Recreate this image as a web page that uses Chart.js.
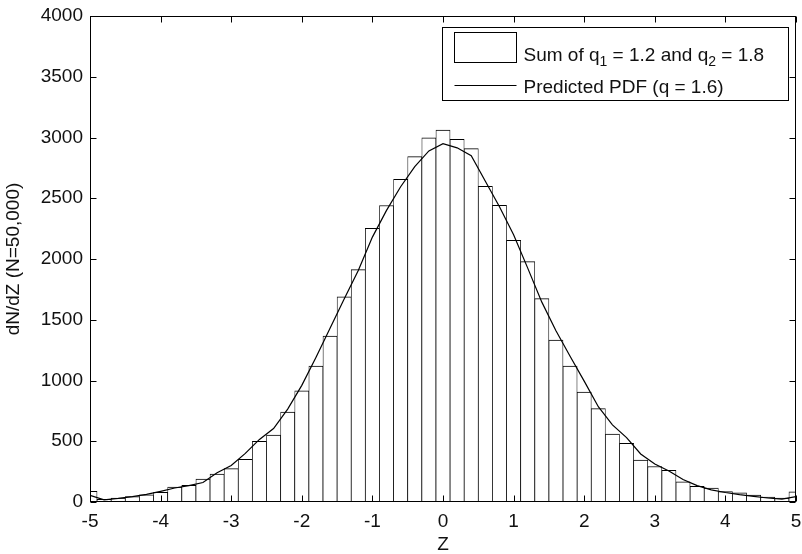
<!DOCTYPE html>
<html>
<head>
<meta charset="utf-8">
<script src="https://cdn.jsdelivr.net/npm/chart.js@4.4.0/dist/chart.umd.min.js"></script>
<style>
    html, body { margin: 0; padding: 0; background: #fff; }
    #wrap { width: 802px; height: 554px; }
</style>
</head>
<body>
<div id="wrap"><canvas id="zHist" width="802" height="554"></canvas></div>
<script>
// histogram bins (width 0.2), counts per bin
const binCenters = [-5, -4.8, -4.6, -4.4, -4.2, -4, -3.8, -3.6, -3.4, -3.2, -3, -2.8, -2.6, -2.4, -2.2, -2,
    -1.8, -1.6, -1.4, -1.2, -1, -0.8, -0.6, -0.4, -0.2, 0, 0.2, 0.4, 0.6, 0.8, 1, 1.2, 1.4, 1.6, 1.8, 2,
    2.2, 2.4, 2.6, 2.8, 3, 3.2, 3.4, 3.6, 3.8, 4, 4.2, 4.4, 4.6, 4.8, 5];
const binCounts = [87, 22, 32, 44, 60, 80, 122, 138, 189, 229, 275, 351, 499, 550, 741, 914,
    1119, 1366, 1688, 1912, 2253, 2440, 2656, 2842, 2998, 3062, 2985, 2908, 2598, 2442, 2154, 1978, 1674, 1333, 1118, 905,
    768, 558, 483, 344, 292, 260, 167, 129, 114, 85, 75, 56, 41, 33, 84];

// predicted pdf, sampled on the same z grid
const pdfZ = binCenters;
const pdfValues = [55, 18, 30, 45, 63, 88, 115, 135, 160, 240, 300, 400, 515, 605, 765, 960,
    1190, 1430, 1670, 1905, 2180, 2400, 2595, 2760, 2890, 2949, 2915, 2850, 2640, 2430, 2200, 1925, 1645, 1410, 1200, 995,
    784, 635, 530, 395, 312, 255, 185, 135, 100, 78, 60, 47, 33, 23, 44];

const xTicks = [-5, -4, -3, -2, -1, 0, 1, 2, 3, 4, 5];
const yTicks = [0, 500, 1000, 1500, 2000, 2500, 3000, 3500, 4000];

const histLabel = 'Sum of q_1 = 1.2 and q_2 = 1.8';
const pdfLabel = 'Predicted PDF (q = 1.6)';

const FONT = 'Liberation Sans, Arial, Helvetica, sans-serif';
const INK = '#111';

// text with one-char subscripts written as "_x"
const drawRich = (ctx, text, x, y, size) => {
    const parts = text.split(/_(.)/);
    let cx = x;
    parts.forEach((p, i) => {
        const sub = i % 2 === 1;
        ctx.font = (sub ? Math.round(size * 0.72) : size) + 'px ' + FONT;
        ctx.fillText(p, cx, sub ? y + 5 : y);
        cx += ctx.measureText(p).width;
    });
};

// box round the axes with inward ticks on every side
const frameTicks = {
    id: 'frameTicks',
    afterDatasetsDraw(chart) {
        const { ctx, chartArea: a, scales: { x, y } } = chart;
        const L = Math.round(a.left) + 0.5, R = Math.round(a.right) - 0.5;
        const T = Math.round(a.top) + 0.5, B = Math.round(a.bottom) - 0.5;
        ctx.save();
        ctx.strokeStyle = '#000';
        ctx.lineWidth = 1;
        ctx.strokeRect(L, T, R - L, B - T);
        ctx.beginPath();
        x.ticks.forEach(t => {
            const px = Math.round(x.getPixelForValue(t.value)) + 0.5;
            ctx.moveTo(px, B); ctx.lineTo(px, B - 6);
            ctx.moveTo(px, T); ctx.lineTo(px, T + 6);
        });
        y.ticks.forEach(t => {
            const py = Math.round(y.getPixelForValue(t.value)) + 0.5;
            ctx.moveTo(L, py); ctx.lineTo(L + 6, py);
            ctx.moveTo(R, py); ctx.lineTo(R - 6, py);
        });
        ctx.stroke();
        ctx.restore();
    }
};

// legend box in the upper right corner
const boxLegend = {
    id: 'boxLegend',
    afterDraw(chart) {
        const { ctx, chartArea: a } = chart;
        const left = Math.round(a.right - 354) + 0.5;
        const top = Math.round(a.top + 11) + 0.5;
        ctx.save();
        ctx.fillStyle = '#fff';
        ctx.strokeStyle = '#000';
        ctx.lineWidth = 1;
        ctx.fillRect(left, top, 346, 73);
        ctx.strokeRect(left, top, 346, 73);

        // patch for the histogram
        ctx.strokeRect(left + 12, top + 5, 62, 30);
        // line sample for the pdf
        ctx.beginPath();
        ctx.moveTo(left + 12, top + 58);
        ctx.lineTo(left + 74, top + 58);
        ctx.stroke();

        ctx.fillStyle = INK;
        ctx.textBaseline = 'alphabetic';
        ctx.textAlign = 'left';
        drawRich(ctx, chart.data.datasets[1].label, left + 81, top + 33, 19);
        drawRich(ctx, chart.data.datasets[0].label, left + 81, top + 65, 19);
        ctx.restore();
    }
};

const ctx = document.getElementById('zHist');

new Chart(ctx, {
    type: 'bar',
    data: {
        datasets: [
            {
                type: 'line',
                label: pdfLabel,
                data: pdfZ.map((z, i) => ({ x: z, y: pdfValues[i] })),
                borderColor: '#000',
                borderWidth: 1.2,
                pointRadius: 0,
                tension: 0,
                fill: false,
            },
            {
                type: 'bar',
                label: histLabel,
                data: binCenters.map((z, i) => ({ x: z, y: binCounts[i] })),
                backgroundColor: '#fff',
                borderColor: '#000',
                borderWidth: { top: 1, left: 0.75, right: 0.75, bottom: 0 },
                borderSkipped: 'start',
                barPercentage: 1,
                categoryPercentage: 1,
                clip: 0,
            },
        ],
    },
    options: {
        responsive: false,
        animation: false,
        layout: { padding: { top: 16, right: 6, left: 0, bottom: 0 } },
        plugins: {
            legend: { display: false },
            tooltip: { enabled: false },
        },
        scales: {
            x: {
                type: 'linear',
                min: -5,
                max: 5,
                offset: false,
                grid: { display: false, drawTicks: false },
                border: { display: false },
                afterBuildTicks: s => { s.ticks = xTicks.map(v => ({ value: v })); },
                ticks: {
                    color: INK,
                    padding: 8,
                    maxRotation: 0,
                    font: { family: FONT, size: 19 },
                    callback: v => String(v),
                },
                title: {
                    display: true,
                    text: 'Z',
                    color: INK,
                    padding: { top: 0, bottom: -2 },
                    font: { family: FONT, size: 19 },
                },
                afterFit: s => {
                    s.height = 52;
                    s.paddingLeft = 0;
                    s.paddingRight = 0;
                },
            },
            y: {
                min: 0,
                max: 4000,
                grid: { display: false, drawTicks: false },
                border: { display: false },
                afterBuildTicks: s => { s.ticks = yTicks.map(v => ({ value: v })); },
                ticks: {
                    color: INK,
                    padding: 7,
                    font: { family: FONT, size: 19 },
                    callback: v => String(v),
                },
                title: {
                    display: true,
                    text: 'dN/dZ (N=50,000)',
                    color: INK,
                    padding: 2,
                    font: { family: FONT, size: 19 },
                },
                afterFit: s => {
                    s.width = 90;
                    s.paddingTop = 0;
                    s.paddingBottom = 0;
                },
            },
        },
    },
    plugins: [frameTicks, boxLegend],
});
</script>
</body>
</html>
